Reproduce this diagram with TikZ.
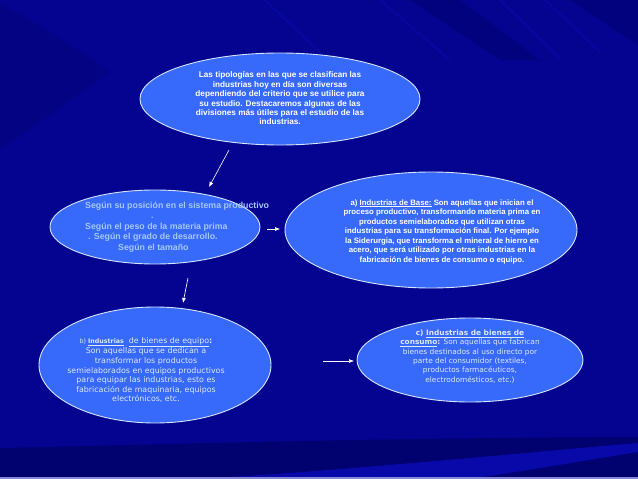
\documentclass[tikz,border=0pt]{standalone}
\usepackage{fontspec}
\setmainfont{Liberation Sans}
\newfontfamily\verd{DejaVu Sans}
\usetikzlibrary{shapes.geometric,arrows.meta}
\definecolor{bgblue}{RGB}{4,4,145}
\definecolor{bgdark}{RGB}{0,0,100}
\definecolor{bglight}{RGB}{10,10,175}
\definecolor{ellfill}{RGB}{55,105,250}
\definecolor{ellline}{RGB}{215,228,255}
\definecolor{paleblue}{RGB}{165,200,250}
\definecolor{softwhite}{RGB}{222,232,255}
\definecolor{strip}{RGB}{135,135,215}
\begin{document}
\begin{tikzpicture}[x=1pt,y=-1pt,
  bubble/.style={ellipse,fill=ellfill,draw=ellline,line width=0.9pt,inner sep=0pt},
  txt/.style={align=center,inner sep=0pt},
  arr/.style={draw=white,line width=0.6pt,-{Latex[length=5pt,width=4pt]}}]
% background
\useasboundingbox (0,0) rectangle (638,479);
\fill[bgblue] (0,0) rectangle (638,479);
\fill[bgdark!30!bgblue] (0,4) .. controls (40,25) and (80,50) .. (110,72) -- (0,150) -- cycle;
\fill[bgdark!40!bgblue] (410,0) -- (460,0) -- (540,60) -- (500,60) -- cycle;
\fill[bgdark!40!bgblue] (570,0) -- (638,0) -- (638,45) -- cycle;
\draw[bglight,line width=1.2pt,opacity=0.7] (265,0) -- (330,62);
\draw[bglight,line width=1pt,opacity=0.7] (380,0) -- (450,60);
\draw[bglight,line width=1.2pt,opacity=0.7] (500,0) -- (560,58);
\draw[bglight,line width=1pt,opacity=0.7] (545,0) -- (600,52);
\fill[bgdark!75!bgblue] (0,448) .. controls (150,445) and (350,438) .. (638,437) -- (638,443) .. controls (500,455) and (350,470) .. (200,479) -- (0,479) -- cycle;
\fill[bglight!80!bgblue] (200,479) .. controls (350,470) and (500,455) .. (638,443) -- (638,452) .. controls (560,465) and (500,475) .. (470,479) -- cycle;
\fill[bgdark!75!bgblue] (470,479) .. controls (500,475) and (560,465) .. (638,452) -- (638,479) -- cycle;
\fill[strip] (0,476.5) rectangle (638,479);
% ellipses
\node[bubble,minimum width=280pt,minimum height=92pt] (top) at (280,99) {};
\node[bubble,minimum width=210pt,minimum height=74pt] (pos) at (155,227) {};
\node[bubble,minimum width=292pt,minimum height=116pt] (base) at (431,230) {};
\node[bubble,minimum width=232pt,minimum height=116pt] (equip) at (155,365) {};
\node[bubble,minimum width=226pt,minimum height=84pt] (cons) at (470,360) {};
% texts
\node[txt,text=white,font=\fontsize{8.2}{9.4}\selectfont\bfseries] (toptext) at (280,98.5)
 {Las tipologías en las que se clasifican las\\
  industrias hoy en día son diversas\\
  dependiendo del criterio que se utilice para\\
  su estudio. Destacaremos algunas de las\\
  divisiones más útiles para el estudio de las\\
  industrias.};
\node[inner sep=0pt,align=left,anchor=west,text=paleblue,font=\fontsize{8.8}{10.5}\selectfont\bfseries] (postext) at (85,227)
 {Según su posición en el sistema productivo\\
  \hspace*{66pt}.\\
  Según el peso de la materia prima\\
  \hspace*{3pt}. Según el grado de desarrollo.\\
  \hspace*{33pt}Según el tamaño};
\node[txt,text=white,font=\fontsize{7.8}{9.5}\selectfont\bfseries] (basetext) at (442,231.5)
 {a) \underline{Industrias de Base:} Son aquellas que inician el\\
  proceso productivo, transformando materia prima en\\
  productos semielaborados que utilizan otras\\
  industrias para su transformación final. Por ejemplo\\
  la Siderurgia, que transforma el mineral de hierro en\\
  acero, que será utilizado por otras industrias en la\\
  fabricación de bienes de consumo o equipo.};
\node[txt,text=softwhite,font=\verd\fontsize{7.9}{9.6}\selectfont] (equiptext) at (146,370)
 {{\fontsize{6.3}{9.6}\selectfont b) \underline{\textbf{Industrias}}}\ \ \underline{de bienes de equipo}\textbf{:}\\
  Son aquellas que se dedican a\\
  transformar los productos\\
  semielaborados en equipos productivos\\
  para equipar las industrias, esto es\\
  fabricación de maquinaria, equipos\\
  electrónicos, etc.};
\node[txt,text=softwhite,font=\verd\fontsize{7.4}{9.4}\selectfont] (constext) at (470,356.5)
 {\textbf{c) \underline{Industrias de bienes de}}\\
  \textbf{\underline{consumo}:} Son aquellas que fabrican\\
  bienes destinados al uso directo por\\
  parte del consumidor (textiles,\\
  productos farmacéuticos,\\
  electrodomésticos, etc.)};
% arrows
\coordinate (a1s) at (229,150); \coordinate (a1e) at (209,187);
\coordinate (a2s) at (188,278); \coordinate (a2e) at (183,303);
\coordinate (a3s) at (267,229); \coordinate (a3e) at (280,229);
\coordinate (a4s) at (323,361); \coordinate (a4e) at (354,361);
\draw[arr] (a1s) -- (a1e);
\draw[arr] (a2s) -- (a2e);
\draw[arr] (a3s) -- (a3e);
\draw[arr] (a4s) -- (a4e);
\end{tikzpicture}
\end{document}
